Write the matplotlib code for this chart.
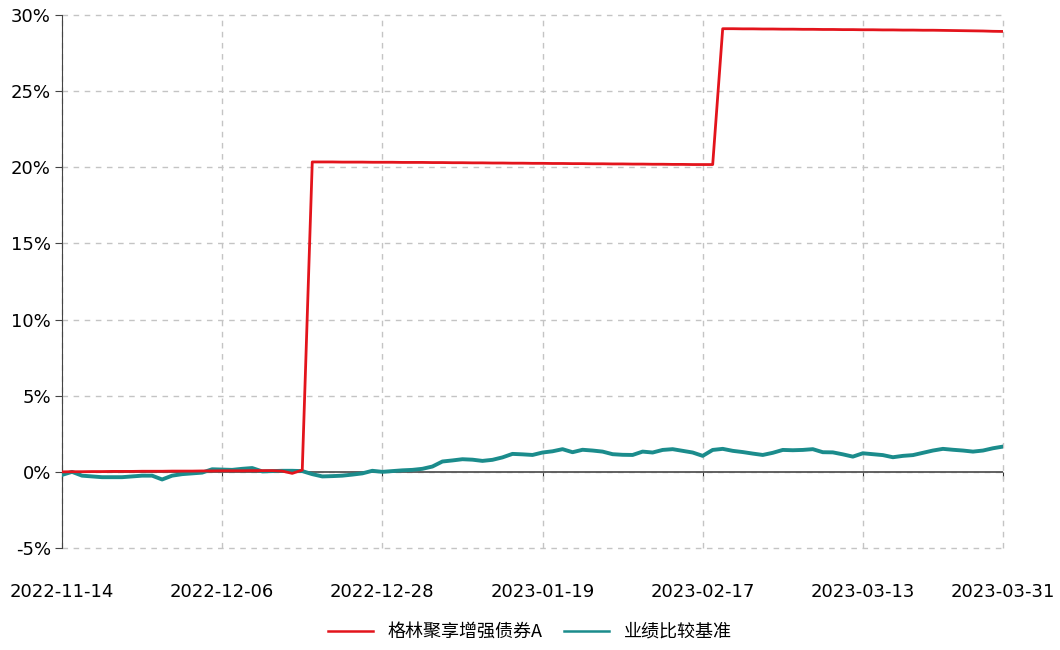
import matplotlib.pyplot as plt
import numpy as np

plt.rcParams['font.family'] = ['Noto Sans CJK SC', 'DejaVu Sans']

# x轴标签 (交易日序号 0..94, 每16个交易日一个刻度)
tick_pos = [0, 16, 32, 48, 64, 80, 94]
tick_labels = ['2022-11-14', '2022-12-06', '2022-12-28', '2023-01-19',
               '2023-02-17', '2023-03-13', '2023-03-31']
y_ticks = [-5, 0, 5, 10, 15, 20, 25, 30]

fund_name = '格林聚享增强债券A'
bench_name = '业绩比较基准'

# 累计收益率 (%)
fund = [0.00, 0.01, 0.01, 0.02, 0.02, 0.03, 0.03, 0.03, 0.04, 0.04,
        0.04, 0.05, 0.05, 0.05, 0.06, 0.06, 0.07, 0.07, 0.07, 0.08,
        0.08, 0.08, 0.05, -0.10, 0.12, 20.35, 20.35, 20.35, 20.34, 20.34,
        20.34, 20.33, 20.33, 20.33, 20.32, 20.32, 20.32, 20.31, 20.31, 20.30,
        20.30, 20.29, 20.29, 20.28, 20.28, 20.27, 20.27, 20.26, 20.26, 20.25,
        20.25, 20.24, 20.24, 20.23, 20.23, 20.22, 20.22, 20.21, 20.21, 20.20,
        20.20, 20.19, 20.19, 20.18, 20.18, 20.18, 29.10, 29.10, 29.09, 29.09,
        29.08, 29.08, 29.07, 29.07, 29.06, 29.06, 29.05, 29.05, 29.04, 29.04,
        29.03, 29.03, 29.02, 29.02, 29.01, 29.01, 29.00, 29.00, 28.99, 28.98,
        28.97, 28.96, 28.95, 28.93, 28.92]

bench = [-0.20, 0.00, -0.25, -0.30, -0.35, -0.35, -0.35, -0.30, -0.25, -0.25,
         -0.50, -0.25, -0.15, -0.10, -0.05, 0.17, 0.15, 0.13, 0.20, 0.25,
         0.03, 0.05, 0.07, 0.07, 0.05, -0.15, -0.30, -0.28, -0.25, -0.18,
         -0.10, 0.07, 0.00, 0.05, 0.10, 0.13, 0.20, 0.35, 0.68, 0.75,
         0.83, 0.80, 0.72, 0.79, 0.95, 1.18, 1.15, 1.11, 1.27, 1.35,
         1.49, 1.29, 1.45, 1.40, 1.33, 1.16, 1.12, 1.11, 1.33, 1.27,
         1.44, 1.49, 1.38, 1.27, 1.05, 1.44, 1.51, 1.38, 1.30, 1.20,
         1.11, 1.25, 1.44, 1.42, 1.44, 1.49, 1.29, 1.28, 1.15, 1.00,
         1.22, 1.16, 1.10, 0.96, 1.05, 1.10, 1.25, 1.40, 1.51, 1.45,
         1.40, 1.33, 1.40, 1.55, 1.66]

x = np.arange(len(fund))

fig = plt.figure(figsize=(10.6, 6.5), dpi=100)
ax = fig.add_axes([62 / 1060, 1 - 548 / 650, (1003 - 62) / 1060, (548 - 15) / 650])

ax.plot(x, bench, color='#1b8c8c', lw=2.8, zorder=3, label=bench_name)
ax.plot(x, fund, color='#e3141c', lw=2.0, zorder=4, label=fund_name)

ax.set_xlim(0, 94)
ax.set_ylim(-5, 30)
ax.set_yticks(y_ticks)
ax.set_yticklabels([f'{v}%' for v in y_ticks], family='DejaVu Sans')
ax.set_xticks(tick_pos)
ax.set_xticklabels(tick_labels, family='DejaVu Sans')

ax.grid(True, color='#c4c4c4', linestyle=(0, (4, 4)), linewidth=1.0)
ax.set_axisbelow(True)
for gl in ax.get_ygridlines() + ax.get_xgridlines():
    gl.set_clip_on(False)
for s in ['top', 'right', 'bottom']:
    ax.spines[s].set_visible(False)
ax.spines['left'].set_color('#444444')
ax.tick_params(axis='y', length=5, color='#444444', labelsize=13, pad=3)
ax.tick_params(axis='x', length=0, labelsize=13, pad=25)

# 0% 处的横轴
ax.axhline(0, color='#555555', lw=1.3, zorder=2)
zero_axis = ax.secondary_xaxis(5 / 35)
zero_axis.set_xticks(tick_pos)
zero_axis.tick_params(axis='x', length=5, color='#333333', labelbottom=False)
zero_axis.spines['bottom'].set_visible(False)

handles, labels = ax.get_legend_handles_labels()
leg = fig.legend(handles[::-1], labels[::-1], loc='center', bbox_to_anchor=(0.5, 1 - 632 / 650),
                 ncol=2, frameon=False, fontsize=13, handlelength=2.5, columnspacing=1.2)
for line in leg.get_lines():
    line.set_linewidth(1.8)

fig.savefig('out.png', dpi=100)
